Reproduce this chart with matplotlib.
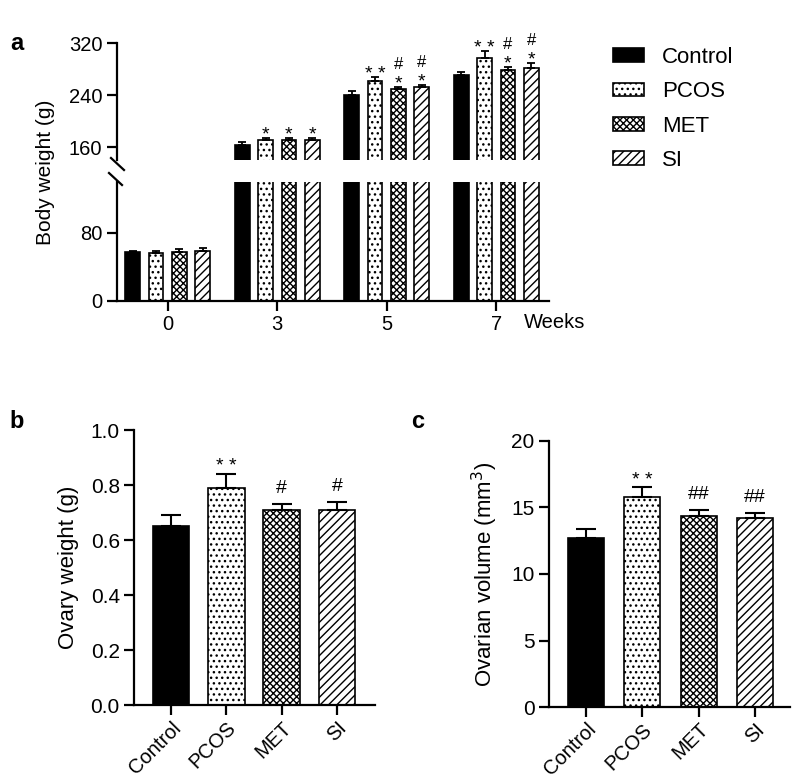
import numpy as np
import matplotlib.pyplot as plt

plt.rcParams['font.family'] = ['Liberation Sans', 'DejaVu Sans']
plt.rcParams['hatch.linewidth'] = 1.0
plt.rcParams['axes.linewidth'] = 1.6

groups = ['Control', 'PCOS', 'MET', 'SI']
weeks = ['0', '3', '5', '7']

# a: body weight (g) per week, mean and upper error
bw_control = [57, 164, 240, 271]
bw_pcos = [56, 171, 262, 298]
bw_met = [57, 171, 249, 279]
bw_si = [58.5, 171, 252, 282]
bw_control_err = [2, 4, 7, 5.5]
bw_pcos_err = [3, 3.5, 6, 9.5]
bw_met_err = [4, 3.5, 3.5, 4.5]
bw_si_err = [4, 2.5, 4, 7.5]
# significance marks per week
bw_star = {'PCOS': ['', '*', '* *', '* *'], 'MET': ['', '*', '*', '*'], 'SI': ['', '*', '*', '*']}
bw_hash = {'MET': ['', '', '#', '#'], 'SI': ['', '', '#', '#']}

# b: ovary weight (g)
ow_mean = [0.65, 0.79, 0.71, 0.71]
ow_err = [0.04, 0.05, 0.02, 0.03]
ow_marks = ['', '* *', '#', '#']

# c: ovarian volume (mm3)
ov_mean = [12.7, 15.8, 14.35, 14.2]
ov_err = [0.7, 0.7, 0.45, 0.4]
ov_marks = ['', '* *', '##', '##']

styles = {
    'Control': dict(color='black', hatch=None),
    'PCOS': dict(color='white', hatch='...'),
    'MET': dict(color='white', hatch='xxxxx'),
    'SI': dict(color='white', hatch='////'),
}

fig = plt.figure(figsize=(8, 7.81), dpi=100)

ax_top = fig.add_axes([0.146, 0.795, 0.54, 0.1496])
ax_bot = fig.add_axes([0.146, 0.615, 0.54, 0.1523])

bw_means = [bw_control, bw_pcos, bw_met, bw_si]
bw_errs = [bw_control_err, bw_pcos_err, bw_met_err, bw_si_err]
xw = np.arange(len(weeks))
handles = []
for ax in (ax_top, ax_bot):
    for i, g in enumerate(groups):
        x = xw + (i - 1.5) * 0.213
        b = ax.bar(x, bw_means[i], 0.134, edgecolor='black', linewidth=1.2, **styles[g])
        ax.errorbar(x, bw_means[i], yerr=[np.zeros(4), bw_errs[i]], fmt='none',
                    ecolor='black', elinewidth=1.3, capsize=3, capthick=1.3)
        if ax is ax_top:
            handles.append(b)

# significance marks on week bars
for i, g in enumerate(groups):
    if g not in bw_star:
        continue
    x = xw + (i - 1.5) * 0.213
    tops = np.array(bw_means[i]) + np.array(bw_errs[i])
    for k in range(len(weeks)):
        if bw_star[g][k]:
            ax_top.annotate(bw_star[g][k], (x[k], tops[k]), xytext=(0, -4),
                            textcoords='offset points', ha='center', va='bottom',
                            fontsize=14, annotation_clip=False)
        if g in bw_hash and bw_hash[g][k]:
            ax_top.annotate(bw_hash[g][k], (x[k], tops[k]), xytext=(0, 11),
                            textcoords='offset points', ha='center', va='bottom',
                            fontsize=12, annotation_clip=False)

ax_top.set_ylim(140, 320)
ax_bot.set_ylim(0, 140)
for ax in (ax_top, ax_bot):
    ax.set_xlim(-0.465, 3.48)
    ax.spines['right'].set_visible(False)
    ax.tick_params(labelsize=14.5, length=7, width=1.6)
ax_top.spines['top'].set_visible(False)
ax_top.spines['bottom'].set_visible(False)
ax_top.set_xticks([])
ax_top.set_yticks([160, 240, 320])
ax_bot.spines['top'].set_visible(False)
ax_bot.set_yticks([0, 80])
ax_bot.set_xticks(xw)
ax_bot.set_xticklabels(weeks)

# break marks on y axis
for (x0, y0, x1, y1) in [(111, 158, 124, 170), (109, 173, 122, 185)]:
    fig.add_artist(plt.Line2D([x0 / 800, x1 / 800], [1 - y0 / 781, 1 - y1 / 781],
                              color='black', lw=1.6))

fig.text(524 / 800, 1 - 323 / 781, 'Weeks', fontsize=14.5, ha='left', va='center')
fig.text(46 / 800, 1 - 172 / 781, 'Body weight (g)', fontsize=15, rotation=90,
         ha='center', va='center')

fig.legend(handles, groups, loc='upper left', bbox_to_anchor=(613 / 800, 1 - 47 / 781),
           frameon=False, fontsize=16, handlelength=1.4, handleheight=0.58,
           handletextpad=0.8, labelspacing=0.6, borderpad=0, borderaxespad=0)


def group_panel(rect, means, errs, marks, ylim, yticks, ylabel, width, xlim):
    ax = fig.add_axes(rect)
    xg = np.arange(len(groups))
    for i, g in enumerate(groups):
        ax.bar(xg[i], means[i], width, edgecolor='black', linewidth=1.2, **styles[g])
    ax.errorbar(xg, means, yerr=[np.zeros(4), errs], fmt='none', ecolor='black',
                elinewidth=1.5, capsize=7, capthick=1.5)
    for i, m in enumerate(marks):
        if m:
            ax.annotate(m, (xg[i], means[i] + errs[i]), xytext=(0, 5 if '#' in m else -1),
                        textcoords='offset points', ha='center', va='bottom', fontsize=14)
    ax.set_ylim(*ylim)
    ax.set_xlim(*xlim)
    ax.set_yticks(yticks)
    ax.set_xticks(xg)
    ax.set_xticklabels(groups, rotation=45, ha='right', va='top', rotation_mode='anchor',
                       fontsize=14.5)
    ax.spines['top'].set_visible(False)
    ax.spines['right'].set_visible(False)
    ax.tick_params(axis='y', labelsize=15)
    ax.tick_params(length=7, width=1.6)
    ax.tick_params(axis='x', pad=2)
    ax.set_ylabel(ylabel, fontsize=16, labelpad=8)
    return ax


ax_b = group_panel([0.168, 0.0967, 0.301, 0.3527], ow_mean, ow_err, ow_marks,
                   (0, 1.0), [0.0, 0.2, 0.4, 0.6, 0.8, 1.0], 'Ovary weight (g)', 0.66, (-0.66, 3.69))
ax_b.set_yticklabels(['0.0', '0.2', '0.4', '0.6', '0.8', '1.0'])
ax_c = group_panel([0.6866, 0.0944, 0.3009, 0.3413], ov_mean, ov_err, ov_marks,
                   (0, 20), [0, 5, 10, 15, 20], 'Ovarian volume (mm$^3$)', 0.64, (-0.65, 3.62))

fig.text(17 / 800, 1 - 44 / 781, 'a', fontsize=17, fontweight='bold', ha='center', va='center')
fig.text(17 / 800, 1 - 421 / 781, 'b', fontsize=17, fontweight='bold', ha='center', va='center')
fig.text(418 / 800, 1 - 421 / 781, 'c', fontsize=17, fontweight='bold', ha='center', va='center')

fig.savefig('out.png', dpi=100)
